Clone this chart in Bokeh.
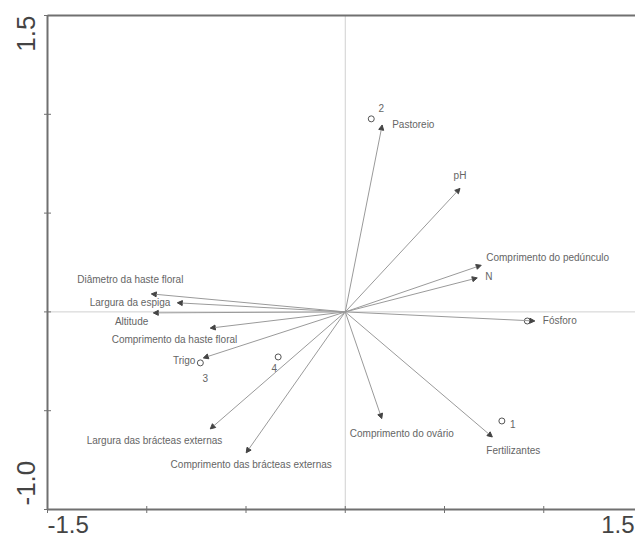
import math
from bokeh.plotting import figure
from bokeh.models import ColumnDataSource, Arrow, NormalHead
from bokeh.core.properties import value
from bokeh.embed import file_html
from bokeh.resources import INLINE

# ---- data ----
var_names = ["Pastoreio", "pH", "Comprimento do pedúnculo", "N", "Fósforo",
             "Fertilizantes", "Comprimento do ovário",
             "Comprimento das brácteas externas", "Largura das brácteas externas",
             "Trigo", "Comprimento da haste floral", "Altitude",
             "Largura da espiga", "Diâmetro da haste floral"]
var_x = [0.186, 0.578, 0.685, 0.665, 0.955, 0.741, 0.184,
         -0.499, -0.680, -0.715, -0.680, -0.967, -0.846, -0.977]
var_y = [0.946, 0.625, 0.236, 0.172, -0.046, -0.633, -0.540,
         -0.713, -0.592, -0.233, -0.082, -0.005, 0.046, 0.091]

site_names = ["2", "1", "3", "4", ""]
site_x = [0.131, 0.789, -0.730, -0.338, 0.917]
site_y = [0.977, -0.552, -0.258, -0.228, -0.046]

x_ticks = [-1.5, -1.0, -0.5, 0.0, 0.5, 1.0, 1.5]
y_ticks = [-1.0, -0.5, 0.0, 0.5, 1.0, 1.5]
x_end_labels = ["-1.5", "1.5"]
y_end_labels = ["-1.0", "1.5"]

# ---- label placement (styles, pixels) ----
var_dx = [10, 0, 5, 8, 8, -6, 20, 5, 12, -8, 27, -5, -7, -21]
var_dy = [0, -13, -8, -1, 0, 14, 15, 12, 12, 3, 11, 9, 0, -14]
var_align = ["left", "center", "left", "left", "left", "left", "center",
             "center", "right", "right", "right", "right", "right", "center"]
site_dx = [10, 11, 5, -4, 0]
site_dy = [-11, 3, 15, 11, 0]

W, H = 635, 539
PX = 198.5          # pixels per unit, horizontal
PY = 197.6          # pixels per unit, vertical
x0 = x_ticks[0] - 47 / PX
x1 = x0 + W / PX
y1 = y_ticks[-1] + 15 / PY
y0 = y1 - H / PY

p = figure(width=W, height=H, x_range=(x0, x1), y_range=(y0, y1),
           output_backend="svg", toolbar_location=None, min_border=0)
p.outline_line_color = None
p.grid.visible = False
p.axis.visible = False

xa, xb = x_ticks[0], x_ticks[-1]
ya, yb = y_ticks[0], y_ticks[-1]

# zero lines
p.segment(x0=[0.0], y0=[ya], x1=[0.0], y1=[yb], line_color="#d0d0d0", line_width=1)
p.segment(x0=[xa], y0=[0.0], x1=[xb], y1=[0.0], line_color="#d0d0d0", line_width=1)

# frame lines (left axis, bottom axis, top border)
p.segment(x0=[xa, xa, xa], y0=[ya, ya, yb], x1=[xa, xb, xb], y1=[yb, ya, yb],
          line_color="#707070", line_width=2)
# tick marks
p.scatter(x=x_ticks, y=[ya] * len(x_ticks), marker="dash", size=7, angle=math.pi / 2,
          line_color="#707070", line_width=1)
p.scatter(x=[xa] * len(y_ticks), y=y_ticks, marker="dash", size=7,
          line_color="#707070", line_width=1)

# arrows
src = ColumnDataSource(dict(x0=[0.0] * len(var_x), y0=[0.0] * len(var_y),
                            x=var_x, y=var_y, name=var_names,
                            dx=var_dx, dy=var_dy, align=var_align))
p.add_layout(Arrow(source=src, x_start="x0", y_start="y0", x_end="x", y_end="y",
                   line_color="#9a9a9a", line_width=1,
                   end=NormalHead(size=5, fill_color="#444444", line_color="#444444")))
p.text(x="x", y="y", text="name", source=src, x_offset="dx", y_offset="dy",
       text_align="align", text_baseline="middle", text_font=value("Liberation Sans"),
       text_font_size="10px", text_color="#656565")

# sites
ssrc = ColumnDataSource(dict(x=site_x, y=site_y, name=site_names, dx=site_dx, dy=site_dy))
p.scatter(x="x", y="y", source=ssrc, marker="circle", size=6, fill_color=None,
          line_color="#555555", line_width=1)
p.text(x="x", y="y", text="name", source=ssrc, x_offset="dx", y_offset="dy",
       text_align="center", text_baseline="middle", text_font=value("Liberation Sans"),
       text_font_size="10px", text_color="#656565")

# axis end labels
ly = ya - 6 / PY
xr = x1 - 1 / PX
p.text(x=[xa], y=[ly], text=[x_end_labels[0]], text_align="left", text_baseline="top",
       text_font=value("Liberation Sans"), text_font_size="24px", text_color="#444444")
p.text(x=[xr], y=[ly], text=[x_end_labels[1]], text_align="right", text_baseline="top",
       text_font=value("Liberation Sans"), text_font_size="24px", text_color="#444444")
lx = xa - 22 / PX
p.text(x=[lx], y=[ya + 4 / PY], text=[y_end_labels[0]], angle=math.pi / 2,
       text_align="left", text_baseline="middle",
       text_font=value("Liberation Sans"), text_font_size="26px", text_color="#444444")
p.text(x=[lx], y=[yb], text=[y_end_labels[1]], angle=math.pi / 2,
       text_align="right", text_baseline="middle",
       text_font=value("Liberation Sans"), text_font_size="26px", text_color="#444444")

open("out.html", "w").write(file_html(p, INLINE))
